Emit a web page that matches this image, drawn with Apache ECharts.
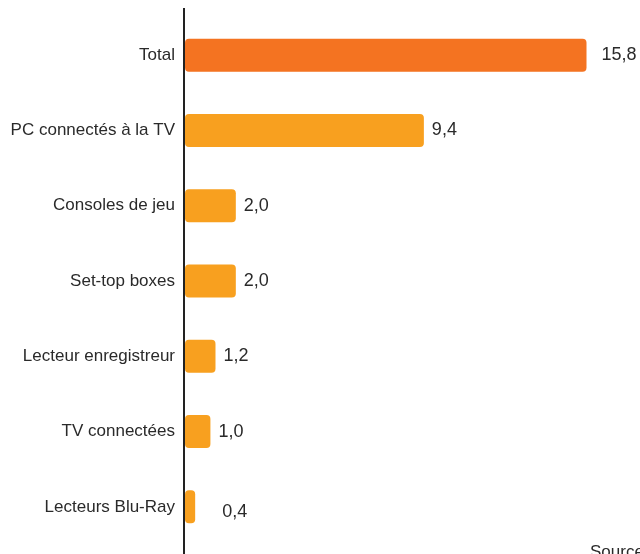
<!DOCTYPE html>
<html>
<head>
<meta charset="utf-8">
<script src="https://cdn.jsdelivr.net/npm/echarts@6/dist/echarts.min.js"></script>
<style>html,body{margin:0;padding:0;background:#fff;}#c{width:640px;height:554px;}</style>
</head>
<body>
<div id="c"></div>
<script>
const categories = ["Total", "PC connectés à la TV", "Consoles de jeu", "Set-top boxes", "Lecteur enregistreur", "TV connectées", "Lecteurs Blu-Ray"];
const values = [15.8, 9.4, 2.0, 2.0, 1.2, 1.0, 0.4];
const sourceText = "Source";

const chart = echarts.init(document.getElementById('c'), null, {renderer: 'canvas'});
const font = "'Liberation Sans', Arial, sans-serif";
const data = values.map((v, i) => {
  const item = {
    value: v,
    itemStyle: { color: i === 0 ? '#F47321' : '#F8A01F' }
  };
  if (i === 0) item.label = { distance: 15 };
  if (i === values.length - 1) item.label = { offset: [19, 5] };
  return item;
});
chart.setOption({
  animation: false,
  grid: { left: 185, right: 23, top: 17.5, bottom: 9.5, containLabel: false },
  xAxis: {
    type: 'value', min: 0, max: 17,
    show: false
  },
  yAxis: {
    type: 'category', data: categories, inverse: true,
    axisLine: { show: false },
    axisTick: { show: false },
    axisLabel: { color: '#2a2a2a', fontSize: 17, fontFamily: font, margin: 10 }
  },
  series: [{
    type: 'bar', data: data, barWidth: 33,
    itemStyle: { borderRadius: 4 },
    label: {
      show: true, position: 'right', distance: 8,
      color: '#2a2a2a', fontSize: 18, fontFamily: font,
      formatter: p => p.value.toFixed(1).replace('.', ',')
    }
  }],
  graphic: [
    { type: 'line', shape: { x1: 184, y1: 8, x2: 184, y2: 554 }, style: { stroke: '#222', lineWidth: 2 }, z: 10 },
    { type: 'text', left: 590, top: 544, style: { text: sourceText + " : NPA Conseil", fontSize: 17, fontFamily: font, fill: '#2a2a2a' } }
  ]
});
</script>
</body>
</html>
